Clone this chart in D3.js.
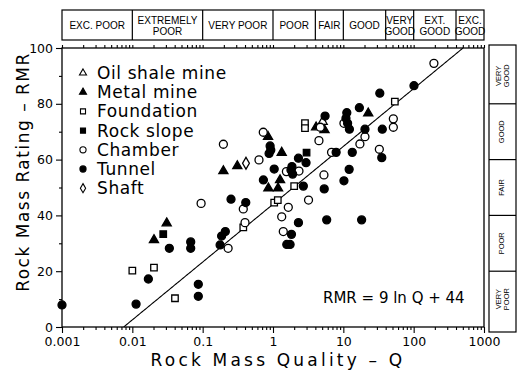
<!DOCTYPE html>
<html>
<head>
<meta charset="utf-8">
<script src="https://cdn.jsdelivr.net/npm/d3@7"></script>
<style>
  body { margin: 0; background: #fff; }
  svg text { font-family: "DejaVu Sans", sans-serif; fill: #000; }
  .band text { font-family: "Liberation Sans Narrow", "Liberation Sans", sans-serif; font-size: 10px; }
  .band.side text { font-size: 7.5px; }
</style>
</head>
<body>
<svg id="chart" width="517" height="374"></svg>
<script>
// Q classes (top band) and RMR classes (right band)
const qBreaks = [0.001, 0.01, 0.1, 1, 4, 10, 40, 100, 400, 1000];
const qClasses = [['EXC. POOR'], ['EXTREMELY', 'POOR'], ['VERY POOR'], ['POOR'], ['FAIR'], ['GOOD'], ['VERY', 'GOOD'], ['EXT.', 'GOOD'], ['EXC.', 'GOOD']];
const rmrBreaks = [100, 80, 60, 40, 20, 0];
const rmrClasses = [['VERY', 'GOOD'], ['GOOD'], ['FAIR'], ['POOR'], ['VERY', 'POOR']];

const xTicks = [0.001, 0.01, 0.1, 1, 10, 100, 1000];
const yTicks = [0, 20, 40, 60, 80, 100];

// case histories: [Q, RMR]
const oilShale = [[5.08, 73.6]];
const metalMine = [[0.0203, 31.2], [0.0308, 37.2], [0.197, 55.9], [0.311, 57.7], [0.85, 68.2], [1.33, 62.5],
  [1.26, 52.7], [0.86, 49.7], [1.18, 49.7], [22.6, 76.6], [4.1, 71.6], [5.4, 70.6]];
const foundation = [[0.01, 20.2], [0.0203, 21.3], [0.0404, 10.3], [2.0, 50.5], [1.04, 44.6], [1.17, 45.5],
  [0.378, 35.7], [54, 80.8], [2.85, 73.1], [2.85, 71.3]];
const rockSlope = [[0.0275, 33.3], [3.0, 62.5]];
const chamber = [[0.095, 44.3], [0.197, 65.5], [0.727, 69.8], [0.632, 59.9], [1.55, 55.7], [2.34, 55.9],
  [3.2, 45.5], [0.378, 42.3], [1.65, 42.9], [1.33, 39.5], [0.4, 37.4], [1.4, 34.2], [0.23, 28.2],
  [194, 94.5], [10.2, 73.0], [20.3, 68.2], [17.2, 65.6], [51.4, 74.6], [51.4, 71.6], [32.5, 63.7],
  [4.7, 71.6], [4.5, 66.8], [6.8, 62.6], [5.3, 54.5]];
const tunnel = [[0.001, 7.9], [0.0113, 8.2], [0.0169, 17.2], [0.0336, 28.2], [0.0676, 30.5], [0.0676, 28.2],
  [0.0867, 15.3], [0.0867, 11], [0.91, 64.9], [0.93, 63.4], [0.88, 62.2], [1.04, 56.6], [1.86, 57.5],
  [1.8, 56.3], [1.9, 54.8], [2.3, 60.5], [2.95, 58.9], [0.73, 52.7], [2.7, 50.5], [0.253, 45.8],
  [0.41, 44.6], [2.3, 37.4], [1.83, 33.2], [0.21, 34.2], [0.186, 32.6], [0.177, 29.4], [1.57, 29.6],
  [1.75, 29.6], [101, 86.5], [33, 83.8], [16.9, 78.6], [11.2, 76.8], [10.9, 74.8], [11.5, 73.0],
  [12.2, 70.9], [20.3, 70.9], [35.8, 70.9], [35.2, 60.7], [5.5, 75.6], [7.9, 62.6], [13.4, 62.6],
  [12.1, 56.5], [10.2, 52.4], [5.35, 49.5], [5.8, 38.4], [18.2, 38.4]];
const shaft = [[0.413, 58.7]];

const series = [
  { name: 'Oil shale mine', data: oilShale, shape: d3.symbolTriangle, size: 36, fill: false },
  { name: 'Metal mine', data: metalMine, shape: d3.symbolTriangle, size: 36, fill: true },
  { name: 'Foundation', data: foundation, shape: d3.symbolSquare, size: 42, fill: false },
  { name: 'Rock slope', data: rockSlope, shape: d3.symbolSquare, size: 42, fill: true },
  { name: 'Chamber', data: chamber, shape: d3.symbolCircle, size: 50, fill: false },
  { name: 'Tunnel', data: tunnel, shape: d3.symbolCircle, size: 50, fill: true },
  { name: 'Shaft', data: shaft, shape: d3.symbolDiamond, size: 40, fill: false }
];

const svg = d3.select('#chart');
const x = d3.scaleLog().domain([0.001, 1000]).range([62, 484]);
const y = d3.scaleLinear().domain([0, 100]).range([327, 48]);

// plot frame
svg.append('rect')
  .attr('x', x(0.001)).attr('y', y(100))
  .attr('width', x(1000) - x(0.001)).attr('height', y(0) - y(100))
  .attr('fill', 'none').attr('stroke', '#000').attr('stroke-width', 1.3);

// minor log ticks
const minorX = [];
for (let e = -3; e < 3; e++) {
  for (let m = 2; m <= 9; m++) minorX.push(m * Math.pow(10, e));
}

function styleAxis(g) {
  g.select('.domain').remove();
  g.selectAll('.tick line').attr('stroke', '#000').attr('stroke-width', 1.1);
}

svg.append('g')
  .attr('transform', 'translate(0,' + y(0) + ')')
  .call(d3.axisBottom(x).tickValues(xTicks).tickSize(6).tickPadding(4)
    .tickFormat(d => d < 1 ? d3.format('')(d) : d3.format('d')(d)))
  .call(styleAxis)
  .selectAll('.tick text').style('font-size', '12.5px');

svg.append('g')
  .attr('transform', 'translate(0,' + y(0) + ')')
  .call(d3.axisBottom(x).tickValues(minorX).tickSize(3).tickFormat(''))
  .call(styleAxis);

svg.append('g')
  .attr('transform', 'translate(0,' + y(100) + ')')
  .call(d3.axisTop(x).tickValues(minorX.concat(xTicks)).tickSize(3).tickFormat(''))
  .call(styleAxis);

svg.append('g')
  .attr('transform', 'translate(' + x(0.001) + ',0)')
  .call(d3.axisLeft(y).tickValues(yTicks).tickSize(6).tickPadding(3))
  .call(styleAxis)
  .selectAll('.tick text').style('font-size', '12.5px');

svg.append('g')
  .attr('transform', 'translate(' + x(0.001) + ',0)')
  .call(d3.axisLeft(y).tickValues([10, 30, 50, 70, 90]).tickSize(3).tickFormat(''))
  .call(styleAxis);

// axis titles
svg.append('text')
  .attr('x', 278).attr('y', 366)
  .attr('text-anchor', 'middle')
  .style('font-size', '17px').style('letter-spacing', '3.2px')
  .text('Rock Mass Quality – Q');

svg.append('text')
  .attr('transform', 'translate(29,172) rotate(-90)')
  .attr('text-anchor', 'middle')
  .style('font-size', '17px').style('letter-spacing', '1.5px')
  .text('Rock Mass Rating – RMR');

// top band: Q classes
const qBand = svg.append('g').attr('class', 'band');
qBand.append('rect')
  .attr('x', x(0.001)).attr('y', 10)
  .attr('width', x(1000) - x(0.001)).attr('height', 30)
  .attr('fill', 'none').attr('stroke', '#000').attr('stroke-width', 1.2);
qBand.selectAll('line.div')
  .data(qBreaks.slice(1, -1))
  .enter().append('line')
  .attr('x1', d => x(d)).attr('x2', d => x(d))
  .attr('y1', 10).attr('y2', 40)
  .attr('stroke', '#000').attr('stroke-width', 1.2);
qClasses.forEach((lines, i) => {
  const cx = (x(qBreaks[i]) + x(qBreaks[i + 1])) / 2;
  lines.forEach((s, k) => {
    qBand.append('text')
      .attr('text-anchor', 'middle')
      .attr('x', cx)
      .attr('y', lines.length === 1 ? 29 : 23.5 + k * 11)
      .text(s);
  });
});

// right band: RMR classes
const rBand = svg.append('g').attr('class', 'band side');
rBand.append('rect')
  .attr('x', 489).attr('y', y(100) - 3)
  .attr('width', 27).attr('height', y(0) - y(100) + 8)
  .attr('fill', 'none').attr('stroke', '#000').attr('stroke-width', 1.2);
rBand.selectAll('line.div')
  .data(rmrBreaks.slice(1, -1))
  .enter().append('line')
  .attr('x1', 489).attr('x2', 516)
  .attr('y1', d => y(d)).attr('y2', d => y(d))
  .attr('stroke', '#000').attr('stroke-width', 1.2);
rmrClasses.forEach((lines, i) => {
  const cy = (y(rmrBreaks[i]) + y(rmrBreaks[i + 1])) / 2;
  lines.forEach((s, k) => {
    const bx = lines.length === 1 ? 504 : 500.5 + k * 8.5;
    rBand.append('text')
      .attr('text-anchor', 'middle')
      .attr('transform', 'translate(' + bx + ',' + cy + ') rotate(-90)')
      .text(s);
  });
});

// regression line RMR = 9 ln Q + 44
const qLine = d3.range(-2.2, 2.8, 0.02).map(e => Math.pow(10, e))
  .filter(q => 9 * Math.log(q) + 44 >= 0 && 9 * Math.log(q) + 44 <= 100);
qLine.unshift(Math.exp(-44 / 9));
qLine.push(Math.exp(56 / 9));
svg.append('path')
  .datum(qLine)
  .attr('fill', 'none').attr('stroke', '#000').attr('stroke-width', 1.1)
  .attr('d', d3.line().x(d => x(d)).y(d => y(9 * Math.log(d) + 44)));

svg.append('text')
  .attr('x', 323).attr('y', 303)
  .style('font-size', '15px')
  .text('RMR = 9 ln Q + 44');

// points
series.forEach(s => {
  svg.append('g').selectAll('path')
    .data(s.data)
    .enter().append('path')
    .attr('transform', d => 'translate(' + x(d[0]) + ',' + y(d[1]) + ')')
    .attr('d', d3.symbol().type(s.shape).size(s.size))
    .attr('fill', s.fill ? '#000' : '#fff')
    .attr('stroke', '#000').attr('stroke-width', 1.3);
});

// legend
const legend = svg.append('g').attr('transform', 'translate(83,73)');
series.forEach((s, i) => {
  const row = legend.append('g').attr('transform', 'translate(0,' + i * 19.2 + ')');
  row.append('path')
    .attr('d', d3.symbol().type(s.shape).size(s.size * 0.6))
    .attr('fill', s.fill ? '#000' : '#fff')
    .attr('stroke', '#000').attr('stroke-width', 1.1);
  row.append('text')
    .attr('x', 14).attr('y', 6)
    .style('font-size', '17px').style('letter-spacing', '0.6px')
    .text(s.name);
});
</script>
</body>
</html>
